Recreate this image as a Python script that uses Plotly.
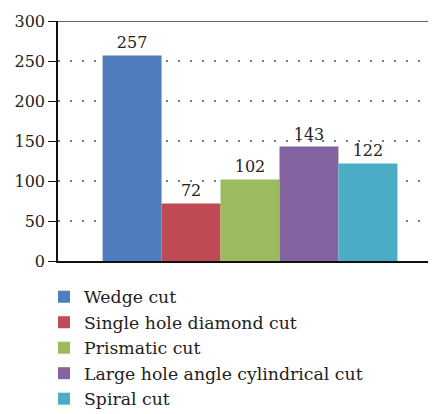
import plotly.graph_objects as go

categories = ["Wedge cut", "Single hole diamond cut", "Prismatic cut",
              "Large hole angle cylindrical cut", "Spiral cut"]
values = [257, 72, 102, 143, 122]
colors = ["#4F7DBE", "#BE4B54", "#9BBB5E", "#8464A0", "#4BACC6"]
y_ticks = [0, 50, 100, 150, 200, 250, 300]

FONT = "DejaVu Serif"

fig = go.Figure()
for name, v, c in zip(categories, values, colors):
    fig.add_trace(go.Bar(
        x=[""], y=[v], name=name, marker=dict(color=c, line=dict(width=0)),
        text=[str(v)], textposition="outside", cliponaxis=False,
        textfont=dict(family=FONT, size=16, color="#222"),
    ))

fig.add_shape(type="line", xref="paper", yref="y", x0=0, x1=1, y0=300, y1=300,
              line=dict(color="#666", width=2))

fig.update_layout(
    width=428, height=406,
    margin=dict(l=50, r=0, t=13, b=153, autoexpand=False),
    paper_bgcolor="white", plot_bgcolor="white",
    barmode="group", bargap=0.22, bargroupgap=0,
    showlegend=True,
    legend=dict(orientation="v", x=-0.037, xanchor="left", y=-0.075, yanchor="top",
                font=dict(family=FONT, size=17.3, color="#222"),
                traceorder="normal", itemsizing="constant",
                bgcolor="rgba(0,0,0,0)"),
    font=dict(family=FONT, size=16, color="#222"),
    xaxis=dict(showline=True, linecolor="#111", linewidth=1.5, showgrid=False,
               showticklabels=False, ticks="", zeroline=False,
               range=[-0.508, 0.492]),
    yaxis=dict(range=[0, 300], tickvals=y_ticks, ticktext=[str(t) for t in y_ticks],
               showline=True, linecolor="#111", linewidth=1.5,
               ticks="outside", ticklen=8, tickwidth=1.2, tickcolor="#111",
               showgrid=True, gridcolor="#777", gridwidth=1.5, griddash="2px,10px",
               zeroline=False,
               tickfont=dict(family=FONT, size=16, color="#222")),
)

fig.write_html("out.html")
